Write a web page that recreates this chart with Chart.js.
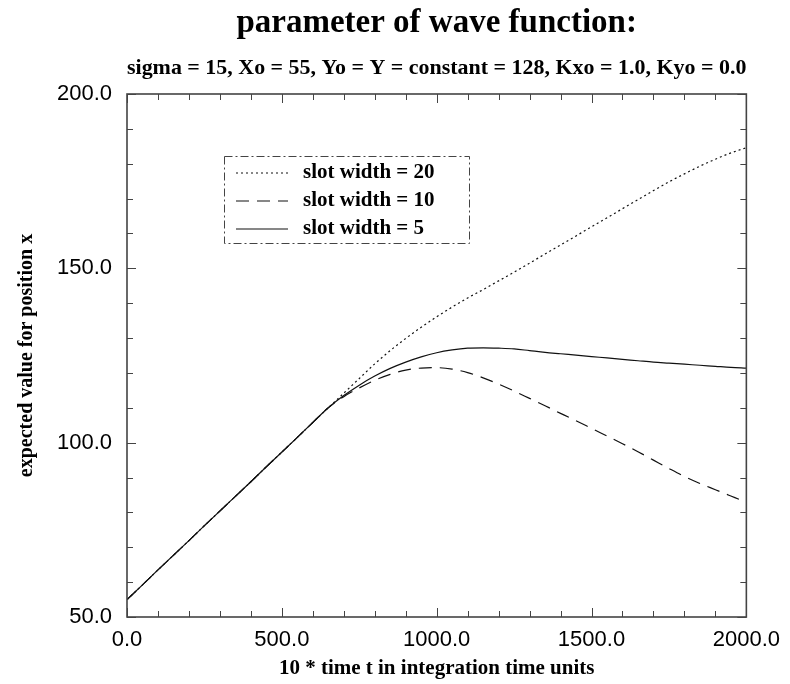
<!DOCTYPE html>
<html>
<head>
<meta charset="utf-8">
<script src="https://cdn.jsdelivr.net/npm/chart.js@4.4.1/dist/chart.umd.min.js"></script>
<style>
  html, body { margin: 0; padding: 0; background: #fff; }
  #wrap { width: 790px; height: 684px; }
</style>
</head>
<body>
<div id="wrap"><canvas id="waveChart" width="790" height="684"></canvas></div>
<script>
// time axis (10 * t)
const times = [0, 50, 100, 150, 200, 250, 300, 350, 400, 450, 500, 550, 600, 650, 700, 750, 800, 850, 900, 950,
  1000, 1050, 1100, 1150, 1200, 1250, 1300, 1350, 1400, 1450, 1500, 1550, 1600, 1650, 1700, 1750, 1800, 1850, 1900, 1950, 2000];

// expected value of x
const slot20 = [55.0, 59.2, 63.5, 67.7, 71.9, 76.2, 80.4, 84.6, 88.8, 93.1, 97.3, 101.5, 105.8, 110.0, 114.2, 118.4, 122.6, 126.4, 129.9, 133.1,
  136.1, 138.9, 141.5, 143.9, 146.4, 148.9, 151.5, 154.1, 156.7, 159.3, 161.9, 164.5, 167.1, 169.7, 172.3, 174.8, 177.1, 179.3, 181.3, 183.1, 184.6];
const slot10 = [55.0, 59.2, 63.5, 67.7, 71.9, 76.2, 80.4, 84.6, 88.8, 93.1, 97.3, 101.5, 105.8, 110.0, 113.2, 115.7, 117.9, 119.6, 120.8, 121.4,
  121.5, 121.1, 120.1, 118.6, 116.8, 114.8, 112.7, 110.6, 108.4, 106.3, 104.1, 101.9, 99.7, 97.4, 95.0, 92.6, 90.3, 88.3, 86.5, 84.7, 82.9];
const slot5 = [55.0, 59.2, 63.5, 67.7, 71.9, 76.2, 80.4, 84.6, 88.8, 93.1, 97.3, 101.5, 105.8, 110.0, 113.5, 116.5, 119.1, 121.3, 123.1, 124.6,
  125.8, 126.6, 127.1, 127.2, 127.1, 126.9, 126.4, 125.9, 125.5, 125.1, 124.7, 124.3, 123.9, 123.5, 123.1, 122.8, 122.5, 122.2, 121.9, 121.6, 121.4];

const seriesLabels = ["slot width = 20", "slot width = 10", "slot width = 5"];
const xMajor = 500, xMinor = 100;
const yMajor = 50, yMinor = 10;

const serif = "'Liberation Serif', 'Times New Roman', serif";
const sans = "'Liberation Sans', Arial, sans-serif";

const toXY = arr => arr.map((v, i) => ({ x: times[i], y: v }));

// frame, inward ticks on all four sides, boxed legend
const framePlugin = {
  id: "frame",
  afterDatasetsDraw(chart) {
    const { ctx, chartArea: a, scales } = chart;
    const xs = scales.x, ys = scales.y;
    ctx.save();
    ctx.strokeStyle = "#444";
    ctx.lineWidth = 1.6;
    ctx.setLineDash([]);
    ctx.strokeRect(a.left, a.top, a.right - a.left, a.bottom - a.top);
    ctx.lineWidth = 1;
    ctx.beginPath();
    for (let t = xs.min; t <= xs.max; t += xMinor) {
      const px = Math.round(xs.getPixelForValue(t)) + 0.5;
      const len = t % xMajor === 0 ? 9 : 6;
      ctx.moveTo(px, a.bottom); ctx.lineTo(px, a.bottom - len);
      ctx.moveTo(px, a.top); ctx.lineTo(px, a.top + len);
    }
    for (let v = ys.min; v <= ys.max; v += yMinor) {
      const py = Math.round(ys.getPixelForValue(v)) + 0.5;
      const len = v % yMajor === 0 ? 9 : 6;
      ctx.moveTo(a.left, py); ctx.lineTo(a.left + len, py);
      ctx.moveTo(a.right, py); ctx.lineTo(a.right - len, py);
    }
    ctx.stroke();

    // legend box
    const bx = a.left + 97, by = a.top + 62, bw = 245, bh = 87;
    const rows = [17, 45, 73];
    ctx.strokeStyle = "#444";
    ctx.setLineDash([8, 3, 2, 3]);
    ctx.strokeRect(bx + 0.5, by + 0.5, bw, bh);
    ctx.font = "bold 21px " + serif;
    ctx.fillStyle = "#000";
    ctx.textBaseline = "middle";
    chart.data.datasets.forEach((ds, i) => {
      const y = by + rows[i];
      ctx.strokeStyle = ds.borderColor;
      ctx.lineWidth = ds.borderWidth;
      ctx.setLineDash(ds.borderDash || []);
      ctx.beginPath();
      ctx.moveTo(bx + 12, y); ctx.lineTo(bx + 64, y);
      ctx.stroke();
      ctx.fillText(ds.label, bx + 79, y);
    });
    ctx.restore();
  }
};

new Chart(document.getElementById("waveChart"), {
  type: "line",
  data: {
    datasets: [
      { label: seriesLabels[0], data: toXY(slot20), borderColor: "#111", borderWidth: 1.2, borderDash: [2, 3] },
      { label: seriesLabels[1], data: toXY(slot10), borderColor: "#111", borderWidth: 1.2, borderDash: [13, 8] },
      { label: seriesLabels[2], data: toXY(slot5), borderColor: "#111", borderWidth: 1.2 }
    ]
  },
  options: {
    responsive: false,
    animation: false,
    elements: { point: { radius: 0 }, line: { cubicInterpolationMode: "monotone" } },
    layout: { padding: { left: 0, right: 36, top: 0, bottom: 0 } },
    plugins: {
      legend: { display: false },
      tooltip: { enabled: false },
      title: {
        display: true,
        fullSize: false,
        text: "parameter of wave function:",
        color: "#000",
        font: { family: serif, size: 33, weight: "bold", lineHeight: 1.2 },
        padding: { top: 4, bottom: 12 }
      },
      subtitle: {
        display: true,
        fullSize: false,
        text: "sigma = 15, Xo = 55, Yo = Y = constant = 128, Kxo = 1.0, Kyo = 0.0",
        color: "#000",
        font: { family: serif, size: 22, weight: "bold", lineHeight: 1.2 },
        padding: { top: 0, bottom: 12 }
      }
    },
    scales: {
      x: {
        type: "linear",
        min: 0, max: 2000,
        grid: { display: false, drawTicks: false },
        border: { display: false },
        afterFit: s => { s.height = 67; },
        ticks: {
          stepSize: xMajor, padding: 10, color: "#000",
          font: { family: sans, size: 22 },
          maxRotation: 0,
          callback: v => v.toFixed(1)
        },
        title: {
          display: true,
          text: "10 * time t in integration time units",
          color: "#000",
          font: { family: serif, size: 21, weight: "bold", lineHeight: 1.2 },
          padding: { top: 0, bottom: 3 }
        }
      },
      y: {
        type: "linear",
        min: 50, max: 200,
        grid: { display: false, drawTicks: false },
        border: { display: false },
        afterFit: s => { s.width = 127; },
        ticks: {
          stepSize: yMajor, padding: 15, color: "#000",
          font: { family: sans, size: 22 },
          callback: v => v.toFixed(1)
        },
        title: {
          display: true,
          text: "expected value for position x",
          color: "#000",
          font: { family: serif, size: 20, weight: "bold", lineHeight: 1.2 },
          padding: { top: 15, bottom: 0 }
        }
      }
    }
  },
  plugins: [framePlugin]
});
</script>
</body>
</html>
